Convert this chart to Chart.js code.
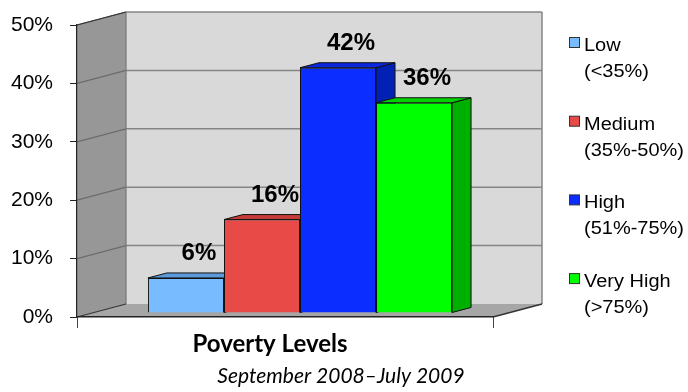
<!DOCTYPE html>
<html>
<head>
<meta charset="utf-8">
<script src="https://cdn.jsdelivr.net/npm/chart.js@4"></script>
<style>
  html, body { margin: 0; padding: 0; background: #fff; }
  #wrap { width: 688px; height: 392px; position: relative; }
</style>
</head>
<body>
<div id="wrap"><canvas id="povertyChart"></canvas></div>
<script>
"use strict";

const categories = ["Poverty Levels"];
const levelNames = ["Low", "Medium", "High", "Very High"];
const levelRanges = ["(<35%)", "(35%-50%)", "(51%-75%)", "(>75%)"];
const shares = [6, 16, 42, 36];
const yTicks = [0, 10, 20, 30, 40, 50];
const subtitle = "September 2008\u2013July 2009";

const frontColors = ["#78bbff", "#e84a47", "#0b2dff", "#00ff00"];
const topColors = ["#5b9bdc", "#c53b38", "#0a27e0", "#00d200"];
const sideColors = ["#4d8ad0", "#b83330", "#0220b4", "#00b000"];

// 3D look: walls sit 49px right / 13px up from the front plane,
// bars sit 15/4 px back and are 19/5 px deep
const wallDepth = { x: 49, y: 13 };
const barShift = { x: 15, y: -4 };
const barDepth = { x: 19, y: 5 };

const poly = (ctx, pts, fill, stroke) => {
    ctx.beginPath();
    ctx.moveTo(pts[0][0], pts[0][1]);
    pts.slice(1).forEach((p) => ctx.lineTo(p[0], p[1]));
    ctx.closePath();
    if (fill) { ctx.fillStyle = fill; ctx.fill(); }
    if (stroke) { ctx.strokeStyle = stroke; ctx.lineWidth = 1; ctx.stroke(); }
};

const line = (ctx, x1, y1, x2, y2, color, width) => {
    ctx.beginPath();
    ctx.moveTo(x1, y1);
    ctx.lineTo(x2, y2);
    ctx.strokeStyle = color;
    ctx.lineWidth = width;
    ctx.stroke();
};

const box3d = {
    id: "box3d",
    beforeDraw(chart) {
        const { ctx, chartArea: a } = chart;
        const y = chart.scales.y;
        const dx = wallDepth.x, dy = wallDepth.y;
        ctx.save();
        // back wall
        poly(ctx, [[a.left + dx, a.top - dy], [a.right + dx, a.top - dy], [a.right + dx, a.bottom - dy], [a.left + dx, a.bottom - dy]], "#d9d9d9", null);
        // side wall
        poly(ctx, [[a.left, a.top], [a.left + dx, a.top - dy], [a.left + dx, a.bottom - dy], [a.left, a.bottom]], "#979797", null);
        // floor
        poly(ctx, [[a.left, a.bottom], [a.left + dx, a.bottom - dy], [a.right + dx, a.bottom - dy], [a.right, a.bottom]], "#a6a6a6", null);

        yTicks.forEach((v) => {
            if (v === 0) return;
            const py = y.getPixelForValue(v);
            line(ctx, a.left + dx, py - dy, a.right + dx, py - dy, "#858585", 1.5);
            line(ctx, a.left, py, a.left + dx, py - dy, "#6c6c6c", 1.2);
        });
        line(ctx, a.right + dx, a.top - dy, a.right + dx, a.bottom - dy, "#858585", 1.5);
        line(ctx, a.left + dx, a.top - dy, a.left + dx, a.bottom - dy, "#777", 1.2);
        line(ctx, a.left, a.top, a.left + dx, a.top - dy, "#333", 1.2);
        line(ctx, a.left, a.bottom, a.left + dx, a.bottom - dy, "#333", 1.2);
        line(ctx, a.right, a.bottom, a.right + dx, a.bottom - dy, "#333", 1.5);
        ctx.restore();
    },
    beforeDatasetDraw() {
        // bars are drawn in afterDatasetsDraw, shifted into the box
        return false;
    },
    afterDatasetsDraw(chart) {
        const ctx = chart.ctx;
        const bd = barDepth;
        ctx.save();
        ctx.translate(barShift.x, barShift.y);
        const tops = [];
        chart.data.datasets.forEach((ds, i) => {
            const bar = chart.getDatasetMeta(i).data[0];
            const { x, y, base, width } = bar.getProps(["x", "y", "base", "width"], true);
            const l = x - width / 2, r = x + width / 2;
            poly(ctx, [[r, y], [r + bd.x, y - bd.y], [r + bd.x, base - bd.y], [r, base]], sideColors[i], "#111");
            poly(ctx, [[l, y], [l + bd.x, y - bd.y], [r + bd.x, y - bd.y], [r, y]], topColors[i], "#111");
            bar.draw(ctx);
            tops.push({ x, y });
        });
        ctx.fillStyle = "#000";
        ctx.font = "bold 24px 'Liberation Sans', Arial, sans-serif";
        ctx.textAlign = "center";
        ctx.textBaseline = "alphabetic";
        tops.forEach((t, i) => {
            ctx.fillText(shares[i] + "%", t.x + 13, t.y - 18);
        });
        ctx.restore();
    },
    afterDraw(chart) {
        const ctx = chart.ctx;
        ctx.save();
        // legend
        ctx.font = "18px 'Liberation Sans', Arial, sans-serif";
        ctx.textBaseline = "alphabetic";
        ctx.textAlign = "left";
        levelNames.forEach((name, i) => {
            const baseY = 51 + i * 78.7;
            ctx.fillStyle = frontColors[i];
            ctx.fillRect(569.5, baseY - 13.5, 10, 10);
            ctx.strokeStyle = "#333";
            ctx.lineWidth = 1;
            ctx.strokeRect(569.5, baseY - 13.5, 10, 10);
            ctx.fillStyle = "#000";
            ctx.save();
            ctx.translate(584, baseY);
            ctx.scale(1.11, 1);
            ctx.fillText(name, 0, 0);
            ctx.fillText(levelRanges[i], 0, 26);
            ctx.restore();
        });
        // subtitle
        ctx.font = "italic 21px Lato, 'Open Sans', sans-serif";
        ctx.textAlign = "center";
        ctx.fillText(subtitle, 341, 383);
        ctx.restore();
    }
};

const datasets = levelNames.map((name, i) => ({
    label: name,
    data: [shares[i]],
    backgroundColor: frontColors[i],
    borderColor: "#111",
    borderWidth: 1,
    categoryPercentage: 0.731,
    barPercentage: 1
}));

new Chart(document.getElementById("povertyChart"), {
    type: "bar",
    data: { labels: categories, datasets },
    options: {
        responsive: true,
        maintainAspectRatio: false,
        devicePixelRatio: 1,
        animation: false,
        layout: { padding: { top: 25, right: 195, bottom: 0, left: 0 } },
        plugins: {
            legend: { display: false },
            tooltip: { enabled: false }
        },
        scales: {
            x: {
                grid: { offset: true, drawOnChartArea: false, tickLength: 11, color: "#444" },
                border: { color: "#222", width: 1.5 },
                ticks: {
                    color: "#000",
                    padding: 2,
                    labelOffset: -15,
                    font: { family: "Lato, 'Open Sans', sans-serif", size: 24, weight: "bold" }
                },
                afterFit: (scale) => { scale.height = 75; }
            },
            y: {
                min: 0,
                max: 50,
                grid: { drawOnChartArea: false, tickLength: 7, color: "#222" },
                border: { color: "#222", width: 1.2 },
                ticks: {
                    stepSize: 10,
                    padding: 17,
                    color: "#000",
                    font: { family: "'Liberation Sans', Arial, sans-serif", size: 21 },
                    callback: (v) => v + "%"
                },
                afterFit: (scale) => {
                    scale.width = 77;
                    scale.paddingTop = 0;
                    scale.paddingBottom = 0;
                }
            }
        }
    },
    plugins: [box3d]
});
</script>
</body>
</html>
